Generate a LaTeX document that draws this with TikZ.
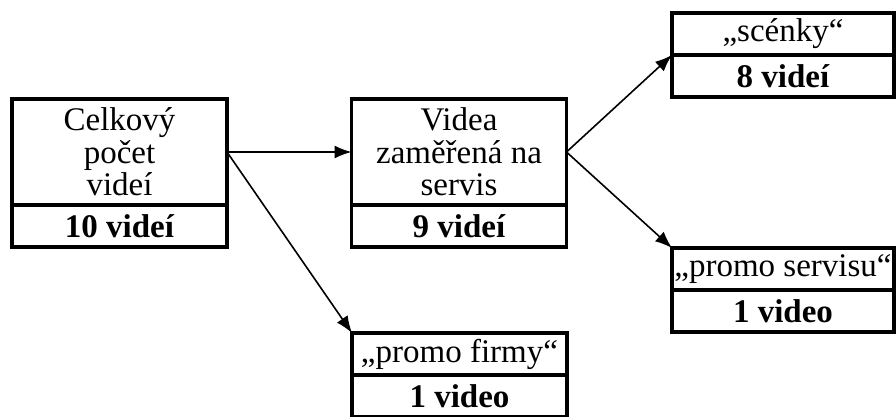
\documentclass[tikz,border=0pt]{standalone}
\usepackage{fontspec}
\setmainfont{Liberation Serif}
\usetikzlibrary{arrows.meta, positioning}
\tikzstyle{part} = [draw, line width=3.2pt, rectangle, outer sep=0pt, inner sep=2pt, align=center, font=\fontsize{33}{32.5}\selectfont]
\tikzstyle{heading} = [part, minimum width=215pt, minimum height=106pt]
\tikzstyle{label} = [part, minimum width=215pt, minimum height=42pt]
\tikzstyle{amount} = [part, minimum width=215pt, minimum height=42pt, font=\fontsize{33}{32.5}\selectfont\bfseries]
\tikzstyle{path} = [-{Latex[length=17pt, width=13pt]}, line width=1.6pt]

\begin{document}
\begin{tikzpicture}[x=1pt, y=-1pt]
    \useasboundingbox (0,0) rectangle (896,416);

    % Boxes: a title part on top, the count below it.
    \node (total) [heading] at (119.5,152) {Celkový\\počet\\videí};
    \node (total n) [amount, below=0pt of total] {10 videí};
    \node (service) [heading] at (459,152) {Videa\\zaměřená na\\servis};
    \node (service n) [amount, below=0pt of service] {9 videí};
    \node (sketch) [label, minimum width=222pt] at (783,34) {„scénky“};
    \node (sketch n) [amount, minimum width=222pt, below=0pt of sketch] {8 videí};
    \node (promo s) [label, minimum width=222pt] at (783,269) {„promo servisu“};
    \node (promo s n) [amount, minimum width=222pt, below=0pt of promo s] {1 video};
    \node (promo f) [label] at (459.5,354) {„promo firmy“};
    \node (promo f n) [amount, below=0pt of promo f] {1 video};

    % Arrows.
    \draw [path] (total.east) -- (service.west);
    \draw [path] (total.east) -- (promo f.north west);
    \draw [path] (service.east) -- (sketch.south west);
    \draw [path] (service.east) -- (promo s.north west);
\end{tikzpicture}
\end{document}
